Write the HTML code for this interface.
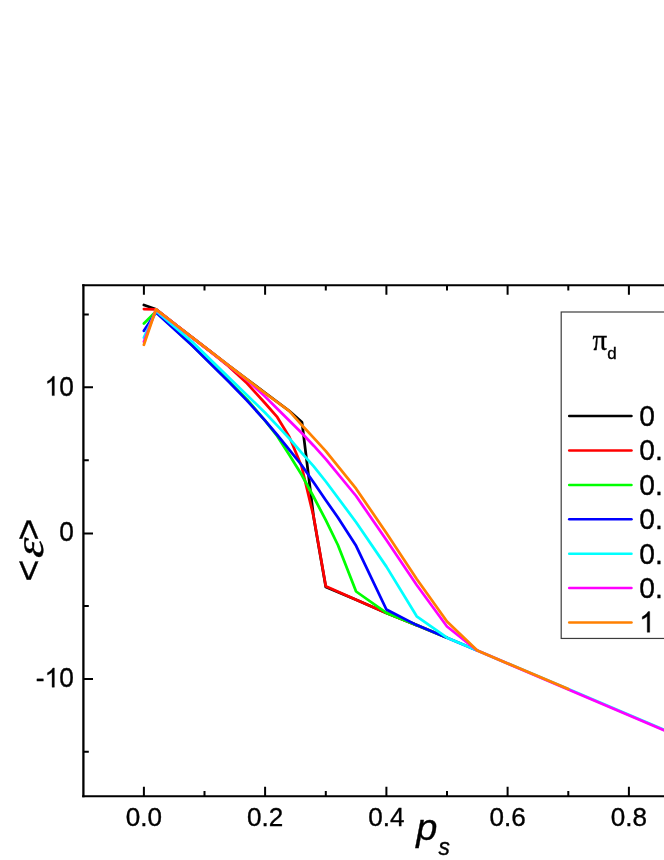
<!DOCTYPE html>
<html><head><meta charset="utf-8"><title>chart</title>
<style>
html,body{margin:0;padding:0;background:#fff;}
body{width:664px;height:860px;overflow:hidden;}
svg{display:block;will-change:transform;}
text{font-family:"Liberation Sans",sans-serif;fill:#000;stroke:#000;stroke-width:0.35px;}
.ser{font-family:"Liberation Serif",serif;}
</style></head><body>
<svg width="664" height="860" viewBox="0 0 664 860">
<rect x="0" y="0" width="664" height="860" fill="#ffffff"/>
<g fill="none" stroke-width="2.75" stroke-linejoin="round" stroke-linecap="round">
<polyline stroke="#000000" points="143.9,305.0 156.0,309.3 174.2,323.5 192.4,337.6 210.6,351.7 228.8,365.7 247.0,379.4 265.1,392.8 289.4,411.0 302.0,422.3 313.7,517.6 325.8,587.0 356.1,599.7 386.4,612.9 416.7,625.1"/>
<polyline stroke="#FF0000" points="143.9,309.1 156.0,309.3 174.2,323.5 192.4,337.6 210.6,351.7 228.8,366.4 247.0,383.3 265.1,403.2 277.3,417.2 289.4,437.0 301.5,466.0 313.7,517.0 325.8,586.3 356.1,599.7 386.4,612.9 416.7,625.1 447.0,637.7"/>
<polyline stroke="#00FF00" points="143.9,323.5 156.0,311.5 192.4,345.5 228.8,381.2 247.0,399.4 265.1,420.6 277.3,436.2 289.4,455.0 301.5,474.5 313.7,497.0 325.8,520.2 337.9,545.0 356.1,591.5 386.4,612.9 416.7,625.1 447.0,637.7"/>
<polyline stroke="#0000FF" points="143.9,330.8 156.0,312.5 192.4,345.8 228.8,381.7 247.0,400.6 265.1,420.6 277.3,435.0 289.4,449.9 301.5,465.0 313.7,482.5 325.8,500.2 337.9,517.5 356.1,545.8 386.4,609.5 416.7,625.1 447.0,637.7 477.3,650.6"/>
<polyline stroke="#00FFFF" points="143.9,337.5 156.0,311.0 192.4,342.0 228.8,377.4 265.1,412.7 277.3,425.6 289.4,438.5 301.5,452.6 313.7,466.3 325.8,481.5 356.1,522.2 386.4,566.6 416.7,616.3 447.0,637.7 477.3,650.6 568.3,689.1 700.0,745.0"/>
<polyline stroke="#FF00FF" points="143.9,341.7 156.0,309.6 174.2,323.7 192.4,337.8 210.6,351.9 228.8,365.9 247.0,379.9 265.1,396.6 277.3,408.8 289.4,420.8 301.5,432.8 313.7,445.7 325.8,459.2 356.1,496.0 386.4,540.0 416.7,585.0 447.0,626.5 477.3,650.6 568.3,689.5 700.0,745.6"/>
<polyline stroke="#FF8000" points="143.9,344.8 156.0,309.3 174.2,323.5 192.4,337.6 210.6,351.7 228.8,365.7 247.0,379.4 265.1,393.1 277.3,402.1 289.4,411.2 301.5,424.8 313.7,437.9 325.8,451.1 356.1,488.7 386.4,533.0 416.7,579.0 447.0,621.5 477.3,650.6 568.3,689.1"/>
</g>
<g stroke="#000" stroke-width="2" fill="none" stroke-linecap="butt">
<path d="M82.2,285.2 H700 M82.2,796.3 H700"/>
<path stroke-width="2.3" d="M83.4,284.2 V797.3"/>
<path d="M143.9,285.2 v9.6 M143.9,796.3 v-9.6 M204.5,285.2 v5.2 M204.5,796.3 v-5.2 M265.1,285.2 v9.6 M265.1,796.3 v-9.6 M325.8,285.2 v5.2 M325.8,796.3 v-5.2 M386.4,285.2 v9.6 M386.4,796.3 v-9.6 M447.0,285.2 v5.2 M447.0,796.3 v-5.2 M507.6,285.2 v9.6 M507.6,796.3 v-9.6 M568.3,285.2 v5.2 M568.3,796.3 v-5.2 M628.9,285.2 v9.6 M628.9,796.3 v-9.6 M689.5,285.2 v5.2 M689.5,796.3 v-5.2 M83.2,314.4 h5.6 M83.2,387.3 h9.8 M83.2,460.2 h5.6 M83.2,533.4 h9.8 M83.2,606.0 h5.6 M83.2,678.9 h9.8 M83.2,751.8 h5.6"/>
</g>
<text transform="translate(125.78,826.1) scale(0.980,1)" font-size="26.6">0</text>
<text transform="translate(140.28,826.1) scale(0.980,1)" font-size="26.6">.</text>
<text transform="translate(147.52,826.1) scale(0.980,1)" font-size="26.6">0</text>
<text transform="translate(247.03,826.1) scale(0.980,1)" font-size="26.6">0</text>
<text transform="translate(261.53,826.1) scale(0.980,1)" font-size="26.6">.</text>
<text transform="translate(268.77,826.1) scale(0.980,1)" font-size="26.6">2</text>
<text transform="translate(368.28,826.1) scale(0.980,1)" font-size="26.6">0</text>
<text transform="translate(382.78,826.1) scale(0.980,1)" font-size="26.6">.</text>
<text transform="translate(390.02,826.1) scale(0.980,1)" font-size="26.6">4</text>
<text transform="translate(489.53,826.1) scale(0.980,1)" font-size="26.6">0</text>
<text transform="translate(504.03,826.1) scale(0.980,1)" font-size="26.6">.</text>
<text transform="translate(511.27,826.1) scale(0.980,1)" font-size="26.6">6</text>
<text transform="translate(610.78,826.1) scale(0.980,1)" font-size="26.6">0</text>
<text transform="translate(625.28,826.1) scale(0.980,1)" font-size="26.6">.</text>
<text transform="translate(632.52,826.1) scale(0.980,1)" font-size="26.6">8</text>
<path d="M763 0H583V1147Q518 1085 412.5 1023Q307 961 223 930V1104Q374 1175 487 1276Q600 1377 647 1472H763Z" transform="translate(44.59,395.6) scale(0.01282,-0.01309)" fill="#000" stroke="#000" stroke-width="27"/>
<text transform="translate(59.20,395.6) scale(0.980,1)" font-size="26.8">0</text>
<text transform="translate(59.20,541.4) scale(0.980,1)" font-size="26.8">0</text>
<text transform="translate(35.85,687.2) scale(0.980,1)" font-size="26.8">-</text>
<path d="M763 0H583V1147Q518 1085 412.5 1023Q307 961 223 930V1104Q374 1175 487 1276Q600 1377 647 1472H763Z" transform="translate(44.59,687.2) scale(0.01282,-0.01309)" fill="#000" stroke="#000" stroke-width="27"/>
<text transform="translate(59.20,687.2) scale(0.980,1)" font-size="26.8">0</text>
<text transform="translate(416.2,839.5) scale(1.040,1)" font-size="36.5" text-anchor="start" font-style="italic" stroke-width="0.6">p</text>
<text transform="translate(438.4,854.5) scale(0.980,1)" font-size="23.2" text-anchor="start" font-style="italic" stroke-width="0.5">s</text>
<g transform="translate(40.8,550) rotate(-90)"><g stroke="#000" stroke-width="0.6"><text x="-31.4" y="0" font-size="37.5">&lt;</text><text x="9.5" y="0" font-size="37.5">&gt;</text></g><text class="ser" transform="translate(-8.4,2.6) scale(1.19,1) skewX(-6)" font-size="40" font-style="italic" stroke-width="0">&#949;</text></g>
<rect x="561.2" y="312" width="140" height="326.45" fill="#fff" stroke="#3c3c3c" stroke-width="1.2"/>
<text transform="translate(592.5,349.5) scale(0.980,1)" font-size="29.5" text-anchor="start" class="ser" stroke-width="0.1">&#960;</text>
<text transform="translate(607.3,358.7) scale(0.980,1)" font-size="17.3" text-anchor="start">d</text>
<g stroke-width="2.5" stroke-linecap="round" fill="none">
<path stroke="#000000" d="M569.2,416.1 H631.5"/>
<path stroke="#FF0000" d="M569.2,450.5 H631.5"/>
<path stroke="#00FF00" d="M569.2,484.9 H631.5"/>
<path stroke="#0000FF" d="M569.2,519.3 H631.5"/>
<path stroke="#00FFFF" d="M569.2,553.7 H631.5"/>
<path stroke="#FF00FF" d="M569.2,588.1 H631.5"/>
<path stroke="#FF8000" d="M569.2,622.5 H631.5"/>
</g>
<text transform="translate(639.20,425.9) scale(0.980,1)" font-size="28.8">0</text>
<text transform="translate(639.20,460.3) scale(0.980,1)" font-size="28.8">0</text>
<text transform="translate(654.89,460.3) scale(0.980,1)" font-size="28.8">.</text>
<text transform="translate(639.20,494.7) scale(0.980,1)" font-size="28.8">0</text>
<text transform="translate(654.89,494.7) scale(0.980,1)" font-size="28.8">.</text>
<text transform="translate(639.20,529.1) scale(0.980,1)" font-size="28.8">0</text>
<text transform="translate(654.89,529.1) scale(0.980,1)" font-size="28.8">.</text>
<text transform="translate(639.20,563.5) scale(0.980,1)" font-size="28.8">0</text>
<text transform="translate(654.89,563.5) scale(0.980,1)" font-size="28.8">.</text>
<text transform="translate(639.20,597.9) scale(0.980,1)" font-size="28.8">0</text>
<text transform="translate(654.89,597.9) scale(0.980,1)" font-size="28.8">.</text>
<path d="M763 0H583V1147Q518 1085 412.5 1023Q307 961 223 930V1104Q374 1175 487 1276Q600 1377 647 1472H763Z" transform="translate(639.20,632.3) scale(0.01378,-0.01406)" fill="#000" stroke="#000" stroke-width="25"/>
</svg>
</body></html>
